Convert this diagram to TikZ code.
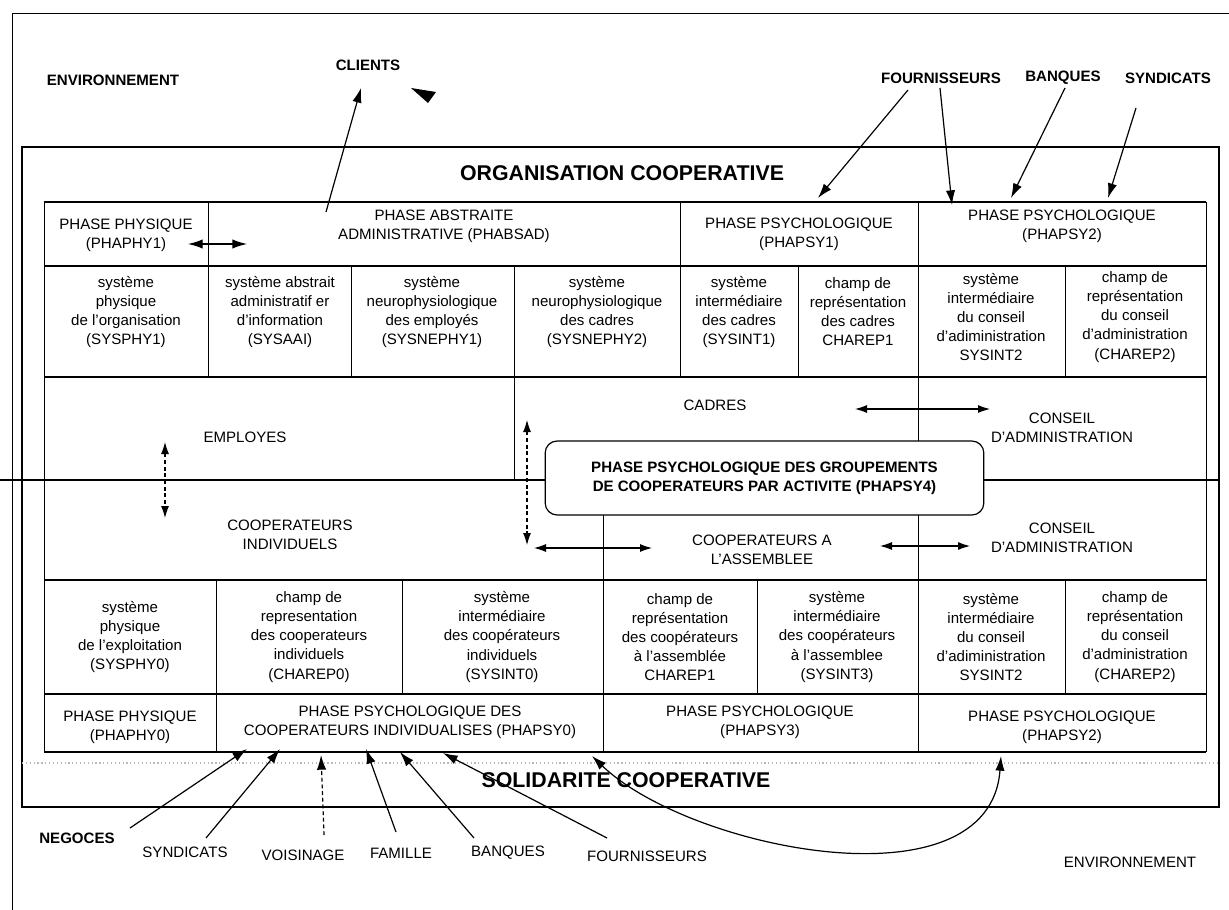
\documentclass[tikz,border=0pt]{standalone}
\usepackage{fontspec}
\setmainfont{Liberation Sans}
\usetikzlibrary{arrows.meta}
\begin{document}
\begin{tikzpicture}[x=0.75pt,y=-0.75pt,
  txt/.style={align=center,inner sep=0pt,font=\fontsize{11.3}{14.3}\selectfont},
  btxt/.style={align=center,inner sep=0pt,font=\fontsize{11.3}{14.3}\selectfont\bfseries},
  title/.style={inner sep=0pt,font=\fontsize{16}{19}\selectfont\bfseries},
  hline/.style={line width=1.2pt},
  vline/.style={line width=0.6pt},
  arr/.style={line width=0.9pt,-{Latex[length=11pt,width=7pt]}},
  darr/.style={line width=0.8pt,{Latex[length=9pt,width=6pt]}-{Latex[length=9pt,width=6pt]}},
  roundbox/.style={draw,line width=0.9pt,rounded corners=9pt,fill=white,align=center,
    minimum width=329pt,minimum height=55.5pt,inner sep=0pt,font=\fontsize{11.3}{14.3}\selectfont\bfseries}
]
\useasboundingbox (0,0) rectangle (1229,910);
\fill[white] (0,0) rectangle (1229,910);

% outer environment frame
\draw[line width=0.7pt] (12,910) -- (12,13) -- (1229,13);
% organisation box
\draw[line width=1pt] (22,147) rectangle (1219,807);
\node[title] (orgT) at (622,173) {ORGANISATION COOPERATIVE};

% table horizontal lines
\draw[hline] (44,202) -- (1206,202);
\draw[hline] (44,266) -- (1206,266);
\draw[hline] (44,377) -- (1206,377);
\draw[hline] (0,480) -- (545,480);
\draw[hline] (984,480) -- (1219,480);
\draw[hline] (44,580) -- (1206,580);
\draw[hline] (44,694) -- (1206,694);
\draw[hline] (44,752) -- (1206,752);
% table vertical lines
\draw[vline] (44,202) -- (44,752);
\draw[vline] (1206,202) -- (1206,752);
\draw[vline] (208,202) -- (208,377);
\draw[vline] (680,202) -- (680,377);
\draw[vline] (918,202) -- (918,752);
\draw[vline] (351,266) -- (351,377);
\draw[vline] (514,266) -- (514,480);
\draw[vline] (798,266) -- (798,377);
\draw[vline] (1065,266) -- (1065,377);
\draw[vline] (603,515) -- (603,752);
\draw[vline] (216,580) -- (216,752);
\draw[vline] (402,580) -- (402,694);
\draw[vline] (757,580) -- (757,694);
\draw[vline] (1065,580) -- (1065,694);

% rounded box
\node[roundbox] (phapsy4) at (764.5,478) {PHASE PSYCHOLOGIQUE DES GROUPEMENTS\\DE COOPERATEURS PAR ACTIVITE (PHAPSY4)};

% row 1
\node[txt] (phaphy1) at (126,235) {PHASE PHYSIQUE\\(PHAPHY1)};
\node[txt] (phabsad) at (444,226) {PHASE ABSTRAITE\\ADMINISTRATIVE (PHABSAD)};
\node[txt] (phapsy1) at (799,234) {PHASE PSYCHOLOGIQUE\\(PHAPSY1)};
\node[txt] (phapsy2a) at (1062,226) {PHASE PSYCHOLOGIQUE\\(PHAPSY2)};
% row 2
\node[txt] (sysphy1) at (126,312) {système\\physique\\de l'organisation\\(SYSPHY1)};
\node[txt] (sysaai) at (280,312) {système abstrait\\administratif er\\d'information\\(SYSAAI)};
\node[txt] (sysnephy1) at (432,312) {système\\neurophysiologique\\des employés\\(SYSNEPHY1)};
\node[txt] (sysnephy2) at (597,312) {système\\neurophysiologique\\des cadres\\(SYSNEPHY2)};
\node[txt] (sysint1) at (739,312) {système\\intermédiaire\\des cadres\\(SYSINT1)};
\node[txt] (charep1a) at (858,312) {champ de\\représentation\\des cadres\\CHAREP1};
\node[txt] (sysint2a) at (991,317) {système\\intermédiaire\\du conseil\\d'adiministration\\SYSINT2};
\node[txt] (charep2a) at (1135,317) {champ de\\représentation\\du conseil\\d'administration\\(CHAREP2)};
% row 3 and 4
\node[txt] (employes) at (245,437) {EMPLOYES};
\node[txt] (cadres) at (715,405) {CADRES};
\node[txt] (conseilA) at (1062,428) {CONSEIL\\D'ADMINISTRATION};
\node[txt] (coopind) at (290,535) {COOPERATEURS\\INDIVIDUELS};
\node[txt] (coopass) at (762,550) {COOPERATEURS A\\L'ASSEMBLEE};
\node[txt] (conseilB) at (1062,538) {CONSEIL\\D'ADMINISTRATION};
% row 5
\node[txt] (sysphy0) at (130,637) {système\\physique\\de l'exploitation\\(SYSPHY0)};
\node[txt] (charep0) at (309,637) {champ de\\representation\\des cooperateurs\\individuels\\(CHAREP0)};
\node[txt] (sysint0) at (502,637) {système\\intermédiaire\\des coopérateurs\\individuels\\(SYSINT0)};
\node[txt] (charep1b) at (680,637) {champ de\\représentation\\des coopérateurs\\à l'assemblée\\CHAREP1};
\node[txt] (sysint3) at (837,637) {système\\intermédiaire\\des coopérateurs\\à l'assemblee\\(SYSINT3)};
\node[txt] (sysint2b) at (991,637) {système\\intermédiaire\\du conseil\\d'adiministration\\SYSINT2};
\node[txt] (charep2b) at (1135,637) {champ de\\représentation\\du conseil\\d'administration\\(CHAREP2)};
% row 6
\node[txt] (phaphy0) at (130,727) {PHASE PHYSIQUE\\(PHAPHY0)};
\node[txt] (phapsy0) at (410,722) {PHASE PSYCHOLOGIQUE DES\\COOPERATEURS INDIVIDUALISES (PHAPSY0)};
\node[txt] (phapsy3) at (760,722) {PHASE PSYCHOLOGIQUE\\(PHAPSY3)};
\node[txt] (phapsy2b) at (1062,727) {PHASE PSYCHOLOGIQUE\\(PHAPSY2)};

% solidarity band
\draw[gray!55,dotted,line width=0.9pt] (22,763) -- (1219,763);
\node[title] (solT) at (626,780) {SOLIDARITE COOPERATIVE};

% environment labels
\node[btxt] (envT) at (113,80) {ENVIRONNEMENT};
\node[btxt] (clients) at (368,65) {CLIENTS};
\node[btxt] (fournT) at (941,78) {FOURNISSEURS};
\node[btxt] (banqT) at (1063,78) {BANQUES};
\node[btxt] (syndT) at (1168,78) {SYNDICATS};
\node[btxt] (negoces) at (77,838) {NEGOCES};
\node[txt] (syndB) at (185,852) {SYNDICATS};
\node[txt] (voisin) at (303,855) {VOISINAGE};
\node[txt] (famille) at (401,853) {FAMILLE};
\node[txt] (banqB) at (508,853) {BANQUES};
\node[txt] (fournB) at (647,856) {FOURNISSEURS};
\node[txt] (envB) at (1130,862) {ENVIRONNEMENT};

% stray arrowhead near CLIENTS
\fill (411,88) -- (436,92) -- (428,103) -- cycle;

% coordinates for connector ends
\coordinate (cliS) at (326,212);  \coordinate (cliE) at (361,88);
\coordinate (f1S) at (908,90);    \coordinate (f1E) at (818,198);
\coordinate (f2S) at (940,88);    \coordinate (f2E) at (952,205);
\coordinate (bqS) at (1065,88);   \coordinate (bqE) at (1011,198);
\coordinate (syS) at (1136,108);  \coordinate (syE) at (1108,198);
\coordinate (ngS) at (130,828);   \coordinate (ngE) at (247,749);
\coordinate (sbS) at (206,838);   \coordinate (sbE) at (280,749);
\coordinate (voS) at (324,835);   \coordinate (voE) at (321,755);
\coordinate (faS) at (396,832);   \coordinate (faE) at (366,749);
\coordinate (bbS) at (474,838);   \coordinate (bbE) at (400,752);
\coordinate (fbS) at (607,838);   \coordinate (fbE) at (443,753);
\coordinate (cvS) at (592,756);   \coordinate (cvE) at (1001,756);
\coordinate (h1a) at (188,244);   \coordinate (h1b) at (247,244);
\coordinate (v1a) at (165,442);   \coordinate (v1b) at (165,518);
\coordinate (v2a) at (527,420);   \coordinate (v2b) at (527,545);
\coordinate (h2a) at (855,409);   \coordinate (h2b) at (990,409);
\coordinate (h3a) at (534,548);   \coordinate (h3b) at (652,548);
\coordinate (h4a) at (880,546);   \coordinate (h4b) at (970,546);

% connectors
\draw[arr] (cliS) -- (cliE);
\draw[arr] (f1S) -- (f1E);
\draw[arr] (f2S) -- (f2E);
\draw[arr] (bqS) -- (bqE);
\draw[arr] (syS) -- (syE);
\draw[arr] (ngS) -- (ngE);
\draw[arr] (sbS) -- (sbE);
\draw[arr,densely dashed] (voS) -- (voE);
\draw[arr] (faS) -- (faE);
\draw[arr] (bbS) -- (bbE);
\draw[arr] (fbS) -- (fbE);
\draw[line width=0.9pt,{Latex[length=11pt,width=7pt]}-{Latex[length=11pt,width=7pt]}] (cvS) .. controls (690,850) and (990,910) .. (cvE);
\draw[darr,line width=1pt,{Latex[length=11pt,width=7pt]}-{Latex[length=11pt,width=7pt]}] (h1a) -- (h1b);
\draw[darr,densely dashed] (v1a) -- (v1b);
\draw[darr,densely dashed] (v2a) -- (v2b);
\draw[darr] (h2a) -- (h2b);
\draw[darr] (h3a) -- (h3b);
\draw[darr] (h4a) -- (h4b);
\end{tikzpicture}
\end{document}
